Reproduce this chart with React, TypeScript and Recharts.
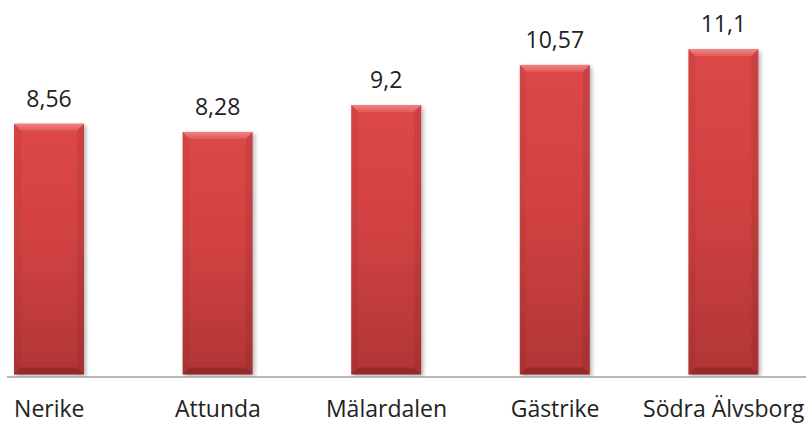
import React from "react";
import { BarChart, Bar, XAxis, YAxis, LabelList } from "recharts";

const categories = ["Nerike", "Attunda", "Mälardalen", "Gästrike", "Södra Älvsborg"];
const values = [8.56, 8.28, 9.2, 10.57, 11.1];

const data = categories.map((name, i) => ({ name, value: values[i] }));

const fmt = (v: number) => String(v).replace(".", ",");

const BevelBar = (props: any) => {
  const { x, y, width, height } = props;
  if (!height || height <= 0) return null;
  const b = 7;
  return (
    <g filter="url(#barShadow)">
      <rect x={x} y={y} width={width} height={height} fill="url(#faceGrad)" />
      <polygon
        points={`${x},${y} ${x + width},${y} ${x + width - b},${y + b} ${x + b},${y + b}`}
        fill="url(#topGrad)"
      />
      <polygon
        points={`${x},${y} ${x + b},${y + b} ${x + b},${y + height - b} ${x},${y + height}`}
        fill="#000"
        fillOpacity={0.04}
      />
      <polygon
        points={`${x + width},${y} ${x + width - b},${y + b} ${x + width - b},${y + height - b} ${x + width},${y + height}`}
        fill="#000"
        fillOpacity={0.07}
      />
      <polygon
        points={`${x},${y + height} ${x + b},${y + height - b} ${x + width - b},${y + height - b} ${x + width},${y + height}`}
        fill="#000"
        fillOpacity={0.18}
      />
    </g>
  );
};

export default function App() {
  return (
    <div style={{ position: "absolute", left: 0, top: 0, width: 806, height: 423, overflow: "hidden", background: "#fff" }}>
      <BarChart
        width={806}
        height={423}
        data={data}
        margin={{ top: 23, right: 0, bottom: 0, left: 7 }}
        barSize={70}
      >
        <defs>
          <linearGradient id="faceGrad" x1="0" y1="0" x2="0" y2="1">
            <stop offset="0%" stopColor="#dc4747" />
            <stop offset="45%" stopColor="#d24242" />
            <stop offset="100%" stopColor="#b23535" />
          </linearGradient>
          <linearGradient id="topGrad" x1="0" y1="0" x2="0" y2="1">
            <stop offset="0%" stopColor="#f08282" />
            <stop offset="100%" stopColor="#e05a5a" />
          </linearGradient>
          <filter id="barShadow" x="-20%" y="-5%" width="140%" height="115%">
            <feDropShadow dx="2" dy="2" stdDeviation="2" floodColor="#000" floodOpacity="0.3" />
          </filter>
        </defs>
        <XAxis
          dataKey="name"
          height={46}
          padding={{ left: -42, right: -2 }}
          axisLine={{ stroke: "#a0a0a0", strokeWidth: 1.5 }}
          tickLine={false}
          tickSize={6}
          tickMargin={18}
          interval={0}
          tick={{ fill: "#222", fontSize: 23, fontFamily: "Open Sans" }}
        />
        <YAxis hide domain={[-0.085, 12]} allowDataOverflow />
        <Bar dataKey="value" isAnimationActive={false} shape={<BevelBar />}>
          <LabelList
            dataKey="value"
            position="top"
            offset={17}
            formatter={(v: any) => fmt(v)}
            style={{ fill: "#222", fontSize: 23, fontFamily: "Open Sans" }}
          />
        </Bar>
      </BarChart>
    </div>
  );
}
